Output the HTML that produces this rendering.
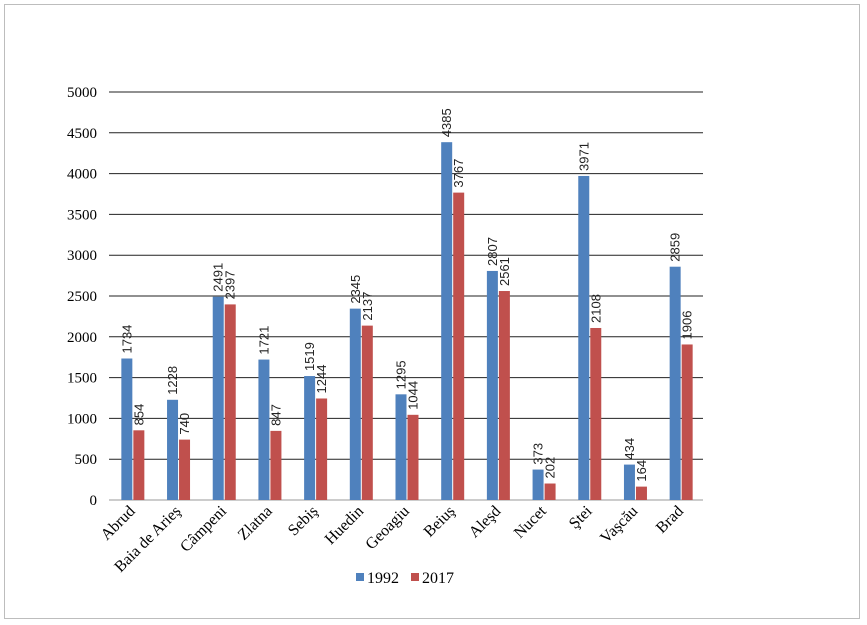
<!DOCTYPE html>
<html><head><meta charset="utf-8"><style>
html,body{margin:0;padding:0;background:#fff;}
svg{display:block;}
</style></head><body>
<svg id="s" width="867" height="625" xmlns="http://www.w3.org/2000/svg"></svg>
<script>
const names=["Abrud","Baia de Arieş","Câmpeni","Zlatna","Sebiş","Huedin","Geoagiu","Beiuş","Aleşd","Nucet","Ştei","Vaşcău","Brad"];
const a=[1734,1228,2491,1721,1519,2345,1295,4385,2807,373,3971,434,2859];
const b=[854,740,2397,847,1244,2137,1044,3767,2561,202,2108,164,1906];
const L=109,R=703,B=500,T=92,k=(B-T)/5000,w=(R-L)/13;
let h='<rect x="4.5" y="4.5" width="855" height="614" fill="#fff" stroke="#bdbdbd"/>';
for(let i=0;i<=10;i++){const y=B-i*500*k;
 h+=`<line x1="${L}" x2="${R}" y1="${y}" y2="${y}" stroke="${i==0?'#999':'#222'}" stroke-width="1"/>`;
 h+=`<text x="97" y="${y+5}" text-anchor="end" font-family="Liberation Serif,serif" font-size="15">${i*500}</text>`;}
for(let i=0;i<13;i++){const c=L+w*i+w/2;
 const bx=c-10.5,rx=c+1.5;
 const ya=B-a[i]*k,yb=B-b[i]*k;
 h+=`<rect x="${bx}" y="${ya}" width="11" height="${B-ya}" fill="#4f81bd"/>`;
 h+=`<rect x="${rx}" y="${yb}" width="11" height="${B-yb}" fill="#c0504d"/>`;
 h+=`<text transform="translate(${bx+10},${ya-5}) rotate(-90)" font-family="Liberation Sans Narrow,Liberation Sans,sans-serif" font-size="13" fill="#222">${a[i]}</text>`;
 h+=`<text transform="translate(${rx+10},${yb-5}) rotate(-90)" font-family="Liberation Sans Narrow,Liberation Sans,sans-serif" font-size="13" fill="#222">${b[i]}</text>`;
 h+=`<text transform="translate(${c+4},${512}) rotate(-45)" text-anchor="end" font-family="Liberation Serif,serif" font-size="16">${names[i]}</text>`;}
h+=`<rect x="356" y="573" width="8" height="8" fill="#4f81bd"/><text x="367" y="583" font-family="Liberation Serif,serif" font-size="16">1992</text>`;
h+=`<rect x="411" y="573" width="8" height="8" fill="#c0504d"/><text x="422" y="583" font-family="Liberation Serif,serif" font-size="16">2017</text>`;
document.getElementById('s').innerHTML=h;
</script>
</body></html>
